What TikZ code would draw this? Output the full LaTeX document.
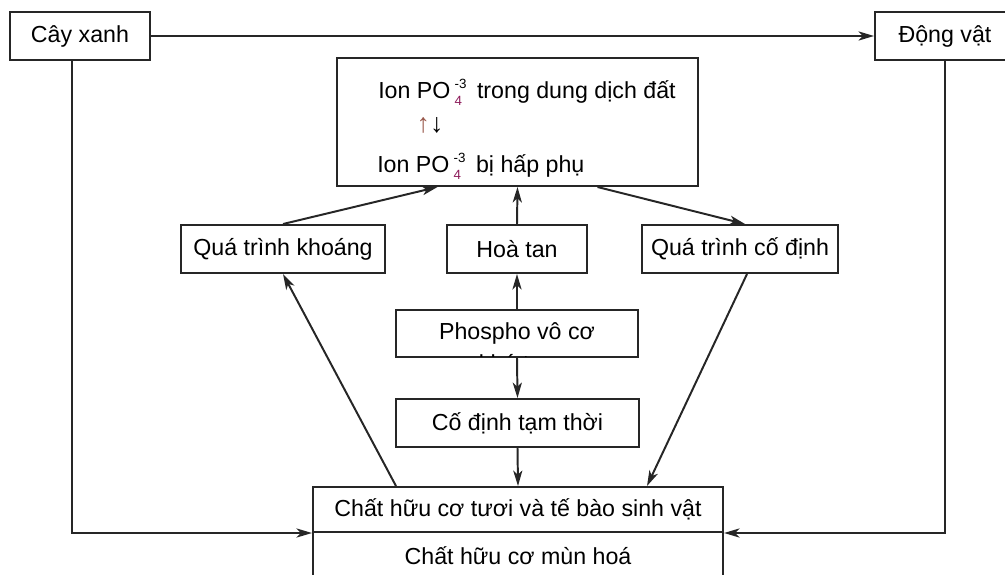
\documentclass[tikz,border=0pt]{standalone}
\usepackage{fontspec}
\setmainfont{Liberation Sans}
\usetikzlibrary{arrows.meta,calc}
\definecolor{subred}{rgb}{0.55,0.1,0.35}
\definecolor{upbrown}{rgb}{0.6,0.35,0.3}
\newcommand{\scriptsz}{\fontsize{9.5}{10}\selectfont}
\newcommand{\ionpo}{Ion PO\hspace{3pt}\rlap{\raisebox{6.5pt}{\scriptsz -3}}\raisebox{-5pt}{\scriptsz\textcolor{subred}{4}}\hspace{6pt}}

\begin{document}
\begin{tikzpicture}[
    x=0.025cm, y=-0.025cm,
    box/.style={draw=black!85, line width=1.4pt, rectangle, inner sep=0pt,
                minimum height=1.2cm, text centered, font=\fontsize{16.5}{19}\selectfont},
    txt/.style={inner sep=0pt, anchor=base west, font=\fontsize{16.5}{19}\selectfont},
    arrow/.style={-{Stealth[length=11pt,width=6.5pt,inset=3pt]}, line width=1.4pt, draw=black!85}
]
    \useasboundingbox (0,0) rectangle (1005,574);
    % Top row
    \node[box, minimum width=3.5cm] (cay) at (80,36) {Cây xanh};
    \node[box, minimum width=3.5cm] (dong) at (945,36) {Động vật};
    % Phosphate ions
    \node[box, minimum width=9.025cm, minimum height=3.2cm] (ion) at (517.5,122) {};
    \node[txt] (ion1) at (378,98) {\ionpo\ trong dung dịch đất};
    \node[inner sep=0pt, font=\fontsize{19}{21}\selectfont] (swap) at (430,125)
        {\textcolor{upbrown}{↑}↓};
    \node[txt] (ion2) at (377,172) {\ionpo\ bị hấp phụ};
    % Processes
    \node[box, minimum width=5.1cm] (khoang) at (283,249) {Quá trình khoáng};
    \node[box, minimum width=3.5cm] (hoatan) at (517,249) {Hoà tan};
    \node[box, minimum width=4.9cm] (codinh) at (740,249) {Quá trình cố định};
    % Inorganic phosphorus
    \node[box, minimum width=6.05cm, minimum height=1.175cm] (phospho) at (517,333.5) {Phospho vô cơ};
    \begin{scope}
        \clip (396,310) rectangle (638,356);
        \node[inner sep=0pt, anchor=base, font=\fontsize{16.5}{19}\selectfont] (khotan) at (517,371) {khó tan};
    \end{scope}
    \node[box, minimum width=6.05cm] (tamthoi) at (517.5,423) {Cố định tạm thời};
    % Organic matter
    \node[box, minimum width=10.25cm, minimum height=1.125cm] (huuco) at (518,509.5) {Chất hữu cơ tươi và tế bào sinh vật};
    \node[box, minimum width=10.25cm] (mun) at (518,556) {Chất hữu cơ mùn hoá};

    % Arrows
    \draw[arrow] (cay) -- (dong);
    \draw[arrow] ($(cay.south)+(-8,0)$) |- (huuco.south west);
    \draw[arrow] (dong.south) |- (huuco.south east);
    \draw[arrow] (khoang.north) -- ($(ion.south)+(-80,0)$);
    \draw[arrow] (hoatan.north) -- (ion.south);
    \draw[arrow] ($(ion.south)+(80,0)$) -- ($(codinh.north)+(5,0)$);
    \draw[arrow] (phospho.north) -- (hoatan.south);
    \draw[arrow] (phospho.south) -- (tamthoi.north);
    \draw[arrow] (tamthoi.south) -- (huuco.north);
    \draw[arrow] ($(huuco.north)+(-122,0)$) -- (khoang.south);
    \draw[arrow] ($(codinh.south)+(7,0)$) -- ($(huuco.north)+(129,0)$);
\end{tikzpicture}
\end{document}
